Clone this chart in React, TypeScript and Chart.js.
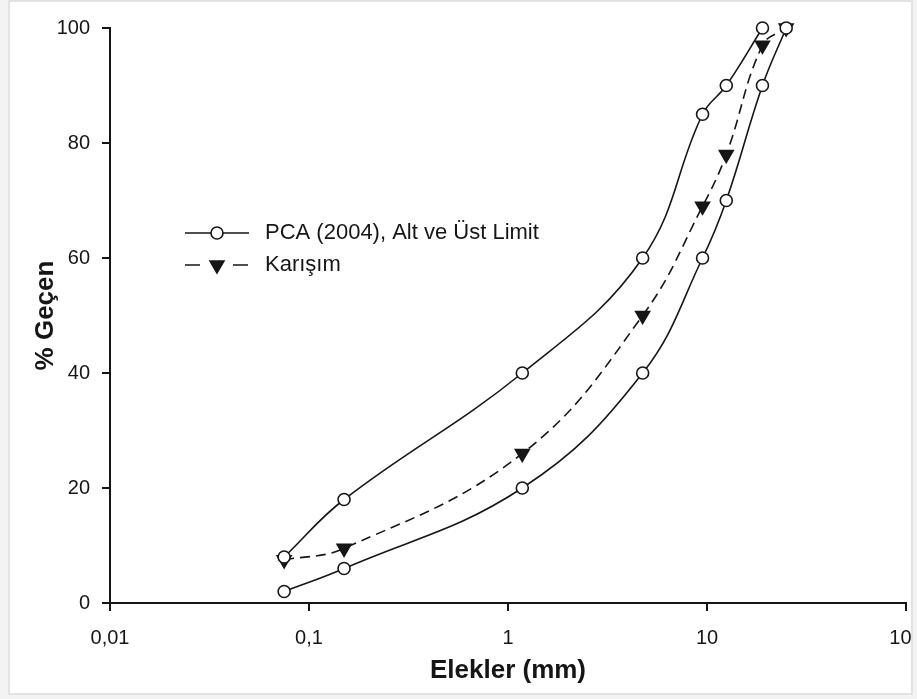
import React, { useEffect, useRef } from 'react';
import { Chart, registerables } from 'chart.js';

Chart.register(...registerables);

const sieveSizes = [0.075, 0.15, 1.18, 4.75, 9.5, 12.5, 19, 25];
const upperLimit = [8, 18, 40, 60, 85, 90, 100];
const lowerLimit = [2, 6, 20, 40, 60, 70, 90, 100];
const mixture = [7.5, 9.5, 26, 50, 69, 78, 97, 100];
const xTickValues = [0.01, 0.1, 1, 10, 100];
const xTickLabels = ['0,01', '0,1', '1', '10', '100'];
const yTickValues = [0, 20, 40, 60, 80, 100];
const limitLabel = 'PCA (2004), Alt ve Üst Limit';
const mixtureLabel = 'Karışım';
const xTitle = 'Elekler (mm)';
const yTitle = '% Geçen';

const INK = '#161616';
const FONT = "'Liberation Sans', Arial, sans-serif";

function drawMarker(ctx: CanvasRenderingContext2D, style: string, x: number, y: number, r: number, fill: string) {
  ctx.save();
  ctx.setLineDash([]);
  ctx.lineWidth = 1.6;
  ctx.strokeStyle = INK;
  ctx.fillStyle = fill;
  ctx.beginPath();
  if (style === 'circle') {
    ctx.arc(x, y, r, 0, Math.PI * 2);
  } else {
    const s = Math.sin(Math.PI / 3) * r;
    ctx.moveTo(x, y + r);
    ctx.lineTo(x - s, y - r / 2);
    ctx.lineTo(x + s, y - r / 2);
    ctx.closePath();
  }
  ctx.fill();
  ctx.stroke();
  ctx.restore();
}

const insideLegend = {
  id: 'insideLegend',
  afterDraw(chart: any) {
    const ctx = chart.ctx as CanvasRenderingContext2D;
    const items = chart.data.datasets.filter((d: any) => d.showInLegend);
    const x0 = 185;
    const x1 = 249;
    const xm = (x0 + x1) / 2;
    const rows = [233, 265];
    items.forEach((d: any, i: number) => {
      const y = rows[i];
      ctx.save();
      ctx.strokeStyle = INK;
      ctx.lineWidth = 1.6;
      ctx.setLineDash(d.borderDash && d.borderDash.length ? [15, 33] : []);
      ctx.beginPath();
      ctx.moveTo(x0, y);
      ctx.lineTo(x1, y);
      ctx.stroke();
      ctx.restore();
      drawMarker(ctx, d.pointStyle === 'triangle' ? 'triangle' : 'circle', xm, y, d.pointRadius, d.pointBackgroundColor);
      ctx.save();
      ctx.fillStyle = INK;
      ctx.font = `22px ${FONT}`;
      ctx.textBaseline = 'middle';
      ctx.textAlign = 'left';
      ctx.fillText(d.label, 265, y);
      ctx.restore();
    });
  },
};

export default function App() {
  const ref = useRef<HTMLCanvasElement | null>(null);

  useEffect(() => {
    if (!ref.current) return;
    const toPoints = (ys: number[]) => ys.map((y, i) => ({ x: sieveSizes[i], y }));
    const common = {
      borderColor: INK,
      borderWidth: 1.6,
      pointBorderColor: INK,
      pointBorderWidth: 1.6,
      tension: 0.4,
      clip: false as any,
      fill: false,
    };
    const chart = new Chart(ref.current, {
      type: 'line',
      data: {
        datasets: [
          {
            ...common,
            label: limitLabel,
            data: toPoints(lowerLimit),
            pointStyle: 'circle',
            pointRadius: 6,
            pointBackgroundColor: '#ffffff',
            showInLegend: true,
          } as any,
          {
            ...common,
            label: limitLabel,
            data: toPoints(upperLimit),
            pointStyle: 'circle',
            pointRadius: 6,
            pointBackgroundColor: '#ffffff',
          } as any,
          {
            ...common,
            label: mixtureLabel,
            data: toPoints(mixture),
            borderDash: [10, 6],
            pointStyle: 'triangle',
            rotation: 180,
            pointRadius: 8,
            pointBackgroundColor: INK,
            showInLegend: true,
          } as any,
        ],
      },
      options: {
        animation: false,
        responsive: false,
        devicePixelRatio: 1,
        layout: { padding: { top: 28, right: 11, bottom: 0, left: 0 } },
        plugins: {
          legend: { display: false },
          tooltip: { enabled: false },
        },
        scales: {
          x: {
            type: 'logarithmic',
            position: 'bottom',
            min: 0.01,
            max: 100,
            afterBuildTicks: (scale: any) => {
              scale.ticks = xTickValues.map((v) => ({ value: v }));
            },
            afterFit: (scale: any) => {
              scale.height = 96;
              scale.paddingLeft = 0;
              scale.paddingRight = 0;
            },
            ticks: {
              color: INK,
              font: { family: FONT, size: 20 },
              padding: 15,
              maxRotation: 0,
              autoSkip: false,
              callback: (value: any) => {
                const i = xTickValues.findIndex((v) => Math.abs(v - Number(value)) < 1e-9);
                return i >= 0 ? xTickLabels[i] : '';
              },
            },
            grid: {
              display: true,
              drawOnChartArea: false,
              drawTicks: true,
              tickLength: 8,
              color: INK,
              lineWidth: 2,
            },
            border: { display: true, color: INK, width: 2 },
            title: {
              display: true,
              text: xTitle,
              color: INK,
              font: { family: FONT, size: 26, weight: 'bold' },
              padding: { top: 0, bottom: 13 },
            },
          },
          y: {
            type: 'linear',
            position: 'left',
            min: 0,
            max: 100,
            afterBuildTicks: (scale: any) => {
              scale.ticks = yTickValues.map((v) => ({ value: v }));
            },
            afterFit: (scale: any) => {
              scale.width = 110;
              scale.paddingTop = 0;
              scale.paddingBottom = 0;
            },
            ticks: {
              color: INK,
              font: { family: FONT, size: 20 },
              padding: 12,
            },
            grid: {
              display: true,
              drawOnChartArea: false,
              drawTicks: true,
              tickLength: 8,
              color: INK,
              lineWidth: 2,
            },
            border: { display: true, color: INK, width: 2 },
            title: {
              display: true,
              text: yTitle,
              color: INK,
              font: { family: FONT, size: 26, weight: 'bold' },
              padding: { top: 30, bottom: 0 },
            },
          },
        },
      } as any,
      plugins: [insideLegend],
    });
    return () => chart.destroy();
  }, []);

  return (
    <div style={{ position: 'fixed', left: 0, top: 0, width: 917, height: 699, background: '#f3f3f3', overflow: 'hidden' }}>
      <div
        style={{
          position: 'absolute',
          left: 8,
          top: 0,
          width: 905,
          height: 695,
          boxSizing: 'border-box',
          border: '2px solid #e2e2e2',
          background: '#ffffff',
          overflow: 'hidden',
        }}
      >
        <canvas
          ref={ref}
          width={917}
          height={699}
          style={{ position: 'absolute', left: -10, top: -2, width: 917, height: 699 }}
        />
      </div>
    </div>
  );
}
